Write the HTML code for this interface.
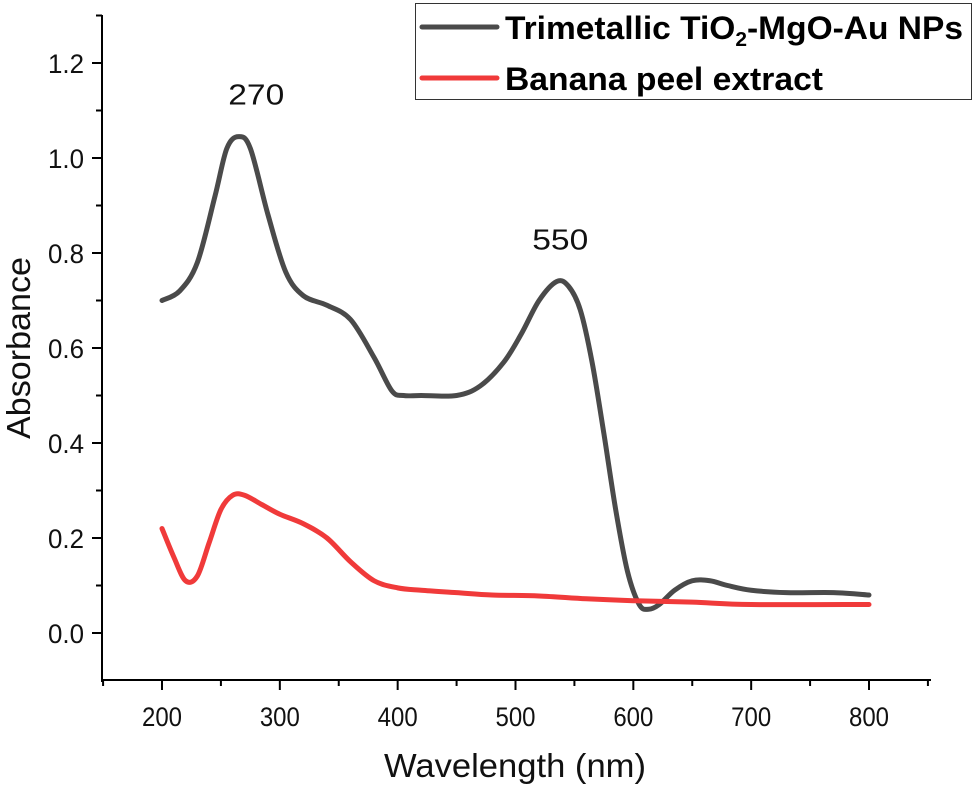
<!DOCTYPE html>
<html><head><meta charset="utf-8"><style>
body{margin:0;background:#fff}
svg{display:block}
text{font-family:"Liberation Sans Narrow","Liberation Sans",sans-serif}
</style></head><body>
<svg id="chart" width="975" height="788" viewBox="0 0 975 788"></svg>
<script>
const wlBlack=[200,215,230,245,255,265,275,290,305,320,340,360,380,395,405,420,450,470,490,505,520,535,545,555,565,575,585,595,605,613,622,635,650,665,680,700,730,770,800];
const absBlack=[0.70,0.72,0.78,0.92,1.02,1.045,1.02,0.88,0.76,0.71,0.69,0.66,0.58,0.51,0.50,0.50,0.50,0.52,0.57,0.63,0.70,0.74,0.73,0.68,0.57,0.42,0.26,0.13,0.06,0.05,0.06,0.09,0.11,0.11,0.10,0.09,0.085,0.085,0.08];
const wlRed=[200,210,220,230,240,250,260,270,285,300,320,340,360,380,400,420,450,480,520,560,600,650,700,800];
const absRed=[0.22,0.16,0.11,0.12,0.19,0.26,0.29,0.29,0.27,0.25,0.23,0.20,0.15,0.11,0.095,0.09,0.085,0.08,0.078,0.072,0.068,0.065,0.06,0.06];
const xTicks=[200,300,400,500,600,700,800];
const yTicks=[0.0,0.2,0.4,0.6,0.8,1.0,1.2];
const yTickLabels=["0.0","0.2","0.4","0.6","0.8","1.0","1.2"];
const peakLabels=[{x:280,y:1.045,t:"270"},{x:538,y:0.74,t:"550"}];

const NS="http://www.w3.org/2000/svg";
const svg=document.getElementById('chart');
const X=v=>162+(v-200)*(869-162)/600;
const Y=v=>633-v*(633-63)/1.2;
function mk(tag,attrs,parent){const e=document.createElementNS(NS,tag);for(const k in attrs)e.setAttribute(k,attrs[k]);(parent||svg).appendChild(e);return e;}

const axY=mk('line',{x1:102,y1:15,x2:102,y2:682,stroke:'#000','stroke-width':2});


const axX=mk('line',{x1:101,y1:680,x2:931,y2:680,stroke:'#000','stroke-width':2});


for(let v=150;v<=850;v+=50){
  const major=v%100===0;
  const t=mk('line',{x1:X(v),y1:680,x2:X(v),y2:major?690:686,stroke:'#000','stroke-width':2});
  
  
}
xTicks.forEach(v=>{
  const t=mk('text',{x:X(v),y:726,'font-size':27,'text-anchor':'middle',fill:'#111',textLength:40,lengthAdjust:'spacingAndGlyphs'});
  t.textContent=v;
  
  
});
yTicks.forEach((v,i)=>{
  const t=mk('line',{x1:92,y1:Y(v),x2:102,y2:Y(v),stroke:'#000','stroke-width':2});
  
  
  const l=mk('text',{x:84,y:Y(v)+10,'font-size':27,'text-anchor':'end',fill:'#111',textLength:36,lengthAdjust:'spacingAndGlyphs'});
  l.textContent=yTickLabels[i];
  
  
});
for(let v=0.1;v<1.3;v+=0.2){
  const t=mk('line',{x1:96,y1:Y(v),x2:102,y2:Y(v),stroke:'#000','stroke-width':2});
  
  
}
const xt=mk('text',{x:515,y:777,'font-size':33,'text-anchor':'middle',fill:'#111',textLength:262,lengthAdjust:'spacingAndGlyphs'});
xt.textContent='Wavelength (nm)';


const yt=mk('text',{x:0,y:0,'font-size':33,'text-anchor':'middle',fill:'#111',textLength:182,lengthAdjust:'spacingAndGlyphs',transform:'translate(30,348) rotate(-90)'});
yt.textContent='Absorbance';



function smooth(xs,ys){
  const p=xs.map((x,i)=>[X(x),Y(ys[i])]);
  let d='M'+p[0][0]+','+p[0][1];
  for(let i=0;i<p.length-1;i++){
    const p0=p[i-1]||p[i],p1=p[i],p2=p[i+1],p3=p[i+2]||p2;
    const c1=[p1[0]+(p2[0]-p0[0])/6,p1[1]+(p2[1]-p0[1])/6];
    const c2=[p2[0]-(p3[0]-p1[0])/6,p2[1]-(p3[1]-p1[1])/6];
    d+=` C${c1[0]},${c1[1]} ${c2[0]},${c2[1]} ${p2[0]},${p2[1]}`;
  }
  return d;
}
const lb=mk('path',{d:smooth(wlBlack,absBlack),fill:'none',stroke:'#4a4a4a','stroke-width':5,'stroke-linejoin':'round','stroke-linecap':'round'});


const lr=mk('path',{d:smooth(wlRed,absRed),fill:'none',stroke:'#f03a3a','stroke-width':5,'stroke-linejoin':'round','stroke-linecap':'round'});



peakLabels.forEach(pk=>{
  const t=mk('text',{x:X(pk.x),y:Y(pk.y)-32,'font-size':29,'text-anchor':'middle',fill:'#111',textLength:56,lengthAdjust:'spacingAndGlyphs'});
  t.textContent=pk.t;
  
  
});

const lg=mk('g',{});


mk('rect',{x:415.5,y:3.5,width:556,height:96,fill:'#fff',stroke:'#333','stroke-width':1},lg);
const e1=mk('line',{x1:422,y1:27,x2:497,y2:27,stroke:'#4a4a4a','stroke-width':5,'stroke-linecap':'round'},lg);


const t1=mk('text',{x:505,y:39,'font-size':32,'font-weight':'bold',fill:'#000',textLength:458,lengthAdjust:'spacingAndGlyphs'},lg);
t1.innerHTML='Trimetallic TiO<tspan font-size="20" dy="7">2</tspan><tspan dy="-7">-MgO-Au NPs</tspan>';


const e2=mk('line',{x1:422,y1:78,x2:497,y2:78,stroke:'#f03a3a','stroke-width':5,'stroke-linecap':'round'},lg);


const t2=mk('text',{x:505,y:90,'font-size':32,'font-weight':'bold',fill:'#000',textLength:318,lengthAdjust:'spacingAndGlyphs'},lg);
t2.textContent='Banana peel extract';


</script>
</body></html>
